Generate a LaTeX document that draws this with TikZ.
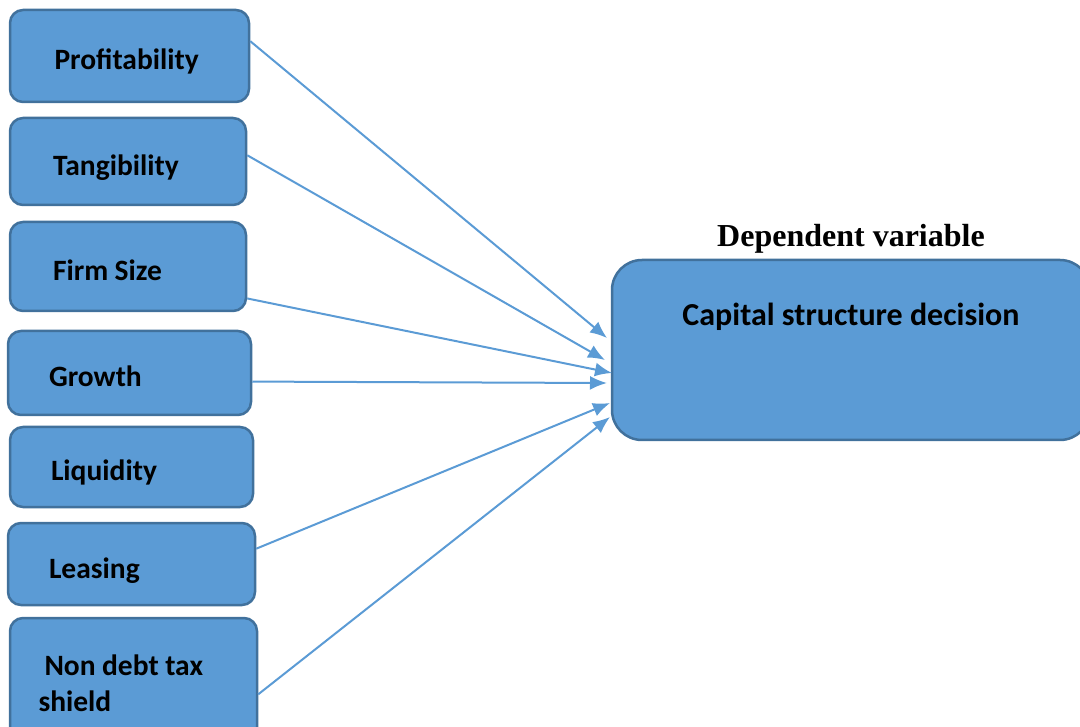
\documentclass[tikz,border=0pt]{standalone}
\usepackage{fontspec}
\usetikzlibrary{arrows.meta, positioning}
\newfontfamily\boxfont{Carlito}
\newfontfamily\headfont{Liberation Serif}
\definecolor{boxblue}{HTML}{5B9BD5}
\definecolor{boxedge}{HTML}{41719C}
\tikzset{
  varbox/.style={draw=boxedge, fill=boxblue, line width=2.5pt, rounded corners=13pt,
    text width=150pt, align=left, text height=28pt, text depth=0pt,
    execute at begin node={\spaceskip=0.22em\relax},
    font=\boxfont\bfseries\fontsize{29.5}{36}\selectfont},
  link/.style={->, draw=boxblue, line width=2pt}
}

\begin{document}
\begin{tikzpicture}[x=1pt, y=-1pt, >={Latex[length=17pt,width=14pt]}]

%\draw[step=50, color=gray!40] (0,0) grid (1080,727);
\useasboundingbox (0,0) rectangle (1080,727);

% independent variables
\node[varbox, minimum width=239pt, minimum height=92pt] (prof) at (129.5,56) {Profitability};
\node[varbox, minimum width=236pt, minimum height=87pt] (tang) at (128,161.5) {Tangibility};
\node[varbox, minimum width=236pt, minimum height=89pt] (fsize) at (128,266.5) {Firm Size};
\node[varbox, minimum width=243pt, minimum height=84pt, text width=161pt] (growth) at (129.5,373) {Growth};
\node[varbox, minimum width=243pt, minimum height=80pt, text width=161pt] (liq) at (131.5,467) {Liquidity};
\node[varbox, minimum width=247pt, minimum height=82pt, text width=165pt] (leas) at (131.5,564) {Leasing};
\node[varbox, minimum width=247pt, minimum height=122pt, text width=190pt,
  text height=22pt, text depth=30pt] (ndts) at (133.5,679) {\hspace{6pt}Non debt tax\\shield};

% dependent variable
\node[varbox, minimum width=478pt, minimum height=180pt, rounded corners=30pt] (dec) at (851,350) {};
\node[below=44pt of dec.north, inner sep=0pt, font=\boxfont\bfseries\fontsize{32}{38}\selectfont] (dectext) {Capital structure decision};
\node[above=5pt of dec.north, inner sep=0pt, font=\headfont\bfseries\fontsize{32}{38}\selectfont] (deplabel) {Dependent variable};

\coordinate (in1) at (607,338);
\coordinate (in2) at (605,360);
\coordinate (in3) at (612,373);
\coordinate (in4) at (607,383);
\coordinate (in5) at (610,403);
\coordinate (in6) at (610,417);

\draw[link] (prof.7) -- (in1);
\draw[link] (tang.3) -- (in2);
\draw[link] (fsize.-15) -- (in3);
\draw[link] (growth.-4) -- (in4);
\draw[link] (leas.7) -- (in5);
\draw[link] (ndts.-7) -- (in6);

\end{tikzpicture}
\end{document}
